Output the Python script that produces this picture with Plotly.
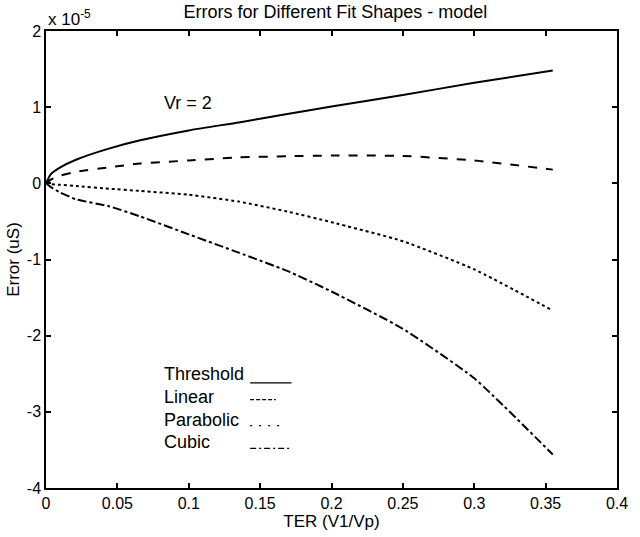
import plotly.graph_objects as go

# ---- data (Error in units of 1e-5 uS) ----
ter = [0, 0.0034, 0.01, 0.021, 0.044, 0.066, 0.10, 0.135, 0.169, 0.20, 0.25, 0.30, 0.355]
threshold = [0, 0.12, 0.21, 0.31, 0.456, 0.565, 0.695, 0.80, 0.91, 1.01, 1.16, 1.32, 1.48]
linear = [0, 0.05, 0.10, 0.15, 0.21, 0.26, 0.30, 0.34, 0.356, 0.365, 0.36, 0.30, 0.18]
parabolic = [0, -0.01, -0.02, -0.035, -0.07, -0.10, -0.15, -0.24, -0.37, -0.51, -0.76, -1.13, -1.67]
cubic = [0, -0.05, -0.12, -0.21, -0.30, -0.435, -0.67, -0.91, -1.15, -1.42, -1.91, -2.56, -3.56]

series_names = ["Threshold", "Linear", "Parabolic", "Cubic"]
series_dash = ["solid", "dash", "dot", "dashdot"]
legend_dash = ["solid", "4px,2px", "2px,7px", "6px,3px,2px,3px"]

x_ticks = [0, 0.05, 0.1, 0.15, 0.2, 0.25, 0.3, 0.35, 0.4]
x_labels = ["0", "0.05", "0.1", "0.15", "0.2", "0.25", "0.3", "0.35", "0.4"]
y_ticks = [-4, -3, -2, -1, 0, 1, 2]
y_labels = ["-4", "-3", "-2", "-1", "0", "1", "2"]

FONT = "Liberation Sans, Arial, Helvetica, sans-serif"

fig = go.Figure()
for name, ys, dash in zip(series_names, [threshold, linear, parabolic, cubic], series_dash):
    fig.add_trace(go.Scatter(
        x=ter, y=ys, mode="lines", name=name,
        line=dict(color="black", width=2, dash=dash, shape="spline", smoothing=0.5),
        showlegend=False,
    ))

# manual MATLAB-style legend (text left, line sample right)
leg_text_y = [-2.50, -2.81, -3.11, -3.40]
leg_line_y = [-2.62, -2.84, -3.18, -3.48]
leg_line_x1 = [0.172, 0.161, 0.167, 0.172]
for name, ty, ly, x1, dash in zip(series_names, leg_text_y, leg_line_y, leg_line_x1, legend_dash):
    fig.add_annotation(x=0.081, y=ty, xref="x", yref="y", text=name, showarrow=False,
                       xanchor="left", yanchor="middle",
                       font=dict(family=FONT, size=18, color="black"))
    fig.add_shape(type="line", xref="x", yref="y", x0=0.143, x1=x1, y0=ly, y1=ly,
                  line=dict(color="black", width=1.3, dash=dash))

fig.add_annotation(x=0.081, y=1.06, xref="x", yref="y", text="Vr = 2", showarrow=False,
                   xanchor="left", yanchor="middle",
                   font=dict(family=FONT, size=18, color="black"))

fig.add_annotation(x=0.0, y=1.0, xref="paper", yref="paper", text="x 10<sup>-5</sup>",
                   showarrow=False, xanchor="left", yanchor="bottom", yshift=0,
                   font=dict(family=FONT, size=17, color="black"))

axis_common = dict(
    showgrid=False, zeroline=False, showline=True, linecolor="black", linewidth=1.5,
    mirror="ticks", ticks="inside", ticklen=5, tickwidth=1.5, tickcolor="black",
    tickfont=dict(family=FONT, size=16, color="black"),
)

fig.update_layout(
    width=640, height=537,
    margin=dict(l=44, r=13, t=31, b=47),
    paper_bgcolor="white", plot_bgcolor="white",
    title=dict(text="Errors for Different Fit Shapes - model", x=0.524, xanchor="center",
               y=0.978, yanchor="middle",
               font=dict(family=FONT, size=18, color="black")),
    xaxis=dict(range=[0, 0.4], tickvals=x_ticks, ticktext=x_labels,
               title=dict(text="TER (V1/Vp)", standoff=1,
                          font=dict(family=FONT, size=17, color="black")),
               **axis_common),
    yaxis=dict(range=[-4, 2], tickvals=y_ticks, ticktext=y_labels,
               title=dict(text="Error (uS)", standoff=3,
                          font=dict(family=FONT, size=17, color="black")),
               **axis_common),
)

fig.write_html("out.html")
